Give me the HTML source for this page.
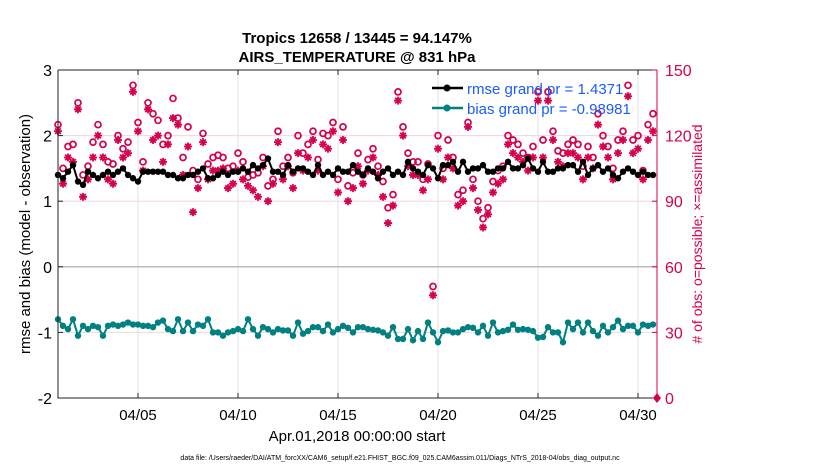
<!DOCTYPE html>
<html><head><meta charset="utf-8"><style>
body{margin:0;background:#fff;width:830px;height:470px;overflow:hidden;font-family:"Liberation Sans",sans-serif}
</style></head><body>
<svg id="chart" width="830" height="470" xmlns="http://www.w3.org/2000/svg" font-family="Liberation Sans, sans-serif">
<text x="357" y="43" text-anchor="middle" font-size="15" font-weight="bold">Tropics 12658 / 13445 = 94.147%</text>
<text x="357" y="62" text-anchor="middle" font-size="15" font-weight="bold">AIRS_TEMPERATURE @ 831 hPa</text>
<g id="grid"></g><g id="marks"></g><g id="axes"></g>
<text transform="translate(30,234) rotate(-90)" text-anchor="middle" font-size="15">rmse and bias (model - observation)</text>
<text transform="translate(702,234) rotate(-90)" text-anchor="middle" font-size="14" fill="#d6004e"># of obs: o=possible; ×=assimilated</text>
<text x="357" y="441" text-anchor="middle" font-size="15">Apr.01,2018 00:00:00 start</text>
<text x="400" y="460" text-anchor="middle" font-size="7">data file: /Users/raeder/DAI/ATM_forcXX/CAM6_setup/f.e21.FHIST_BGC.f09_025.CAM6assim.011/Diags_NTrS_2018-04/obs_diag_output.nc</text>
<g>
<line x1="432" y1="88" x2="463" y2="88" stroke="#000" stroke-width="2.5"/><circle cx="447" cy="88" r="3.5" fill="#000"/>
<text x="467" y="94" font-size="15" fill="#1a5cff">rmse grand pr = 1.4371</text>
<line x1="432" y1="108" x2="463" y2="108" stroke="#008080" stroke-width="2.5"/><circle cx="447" cy="108" r="3.5" fill="#008080"/>
<text x="467" y="114" font-size="15" fill="#1a5cff">bias grand pr = -0.98981</text>
</g>
</svg>
<script>
const rmse=[1.4,1.35,1.45,1.55,1.3,1.25,1.45,1.4,1.35,1.4,1.45,1.4,1.45,1.5,1.4,1.35,1.3,1.45,1.45,1.45,1.45,1.45,1.4,1.4,1.35,1.35,1.4,1.4,1.45,1.5,1.35,1.35,1.4,1.45,1.4,1.45,1.45,1.5,1.45,1.55,1.5,1.55,1.65,1.45,1.45,1.4,1.55,1.45,1.5,1.5,1.45,1.4,1.55,1.4,1.45,1.4,1.5,1.45,1.45,1.55,1.45,1.4,1.5,1.45,1.35,1.45,1.5,1.4,1.45,1.4,1.6,1.5,1.45,1.4,1.55,1.5,1.35,1.55,1.55,1.6,1.45,1.6,1.45,1.5,1.5,1.55,1.45,1.45,1.5,1.5,1.6,1.5,1.5,1.55,1.65,1.5,1.45,1.6,1.45,1.45,1.5,1.5,1.55,1.55,1.45,1.6,1.4,1.5,1.55,1.45,1.5,1.4,1.35,1.45,1.5,1.45,1.4,1.45,1.4,1.4];
const bias=[-0.8,-0.9,-0.95,-0.8,-1.05,-0.9,-0.95,-0.9,-0.92,-1.05,-0.9,-0.88,-0.9,-0.88,-0.85,-0.88,-0.88,-0.9,-0.9,-0.92,-0.85,-0.82,-0.95,-0.98,-0.8,-0.98,-0.85,-0.98,-0.88,-0.9,-0.8,-1.0,-1.0,-1.05,-1.0,-0.98,-0.95,-0.98,-0.8,-0.95,-1.05,-0.92,-0.95,-1.0,-0.95,-0.97,-0.97,-1.05,-0.85,-1.02,-0.98,-0.92,-0.92,-0.98,-0.88,-1.0,-0.95,-0.9,-0.93,-1.0,-0.92,-0.92,-0.95,-0.96,-0.97,-1.0,-1.05,-0.92,-1.1,-1.1,-0.95,-1.12,-0.98,-1.1,-0.85,-1.0,-1.15,-0.98,-0.97,-1.0,-1.0,-0.95,-0.92,-0.93,-1.0,-0.9,-1.05,-0.85,-1.0,-0.98,-0.96,-0.88,-0.96,-0.95,-0.96,-0.98,-1.08,-1.07,-0.92,-1.0,-1.0,-1.15,-0.85,-0.95,-0.85,-1.0,-0.85,-0.98,-1.05,-0.9,-1.0,-0.92,-0.82,-0.95,-0.9,-0.9,-1.0,-0.88,-0.9,-0.88];
const nposs=[125,105,115,116,135,102,106,117,125,116,108,107,120,114,117,143,126,108,135,130,127,116,120,137,128,110,124,104,100,121,107,110,111,110,105,106,112,108,101,102,103,110,97,100,122,106,110,103,120,112,116,122,109,121,120,126,100,124,97,103,112,102,109,114,106,99,87,93,140,124,112,108,108,100,107,51,120,105,118,110,93,95,126,100,90,82,87,99,104,106,120,118,116,112,110,115,140,118,140,122,113,112,116,118,116,106,115,110,130,120,115,105,118,122,143,118,120,104,125,130];
const nassim=[122,98,110,108,132,92,100,110,120,110,100,98,118,110,112,140,122,104,132,118,120,108,116,128,125,102,115,85,96,117,100,104,104,105,96,98,104,100,97,95,92,106,90,98,117,100,106,96,112,104,110,118,104,116,114,122,94,118,90,96,106,98,104,110,102,92,80,88,136,120,106,102,102,95,100,47,114,100,110,105,88,90,124,96,86,78,84,94,98,100,116,112,110,108,104,110,136,110,136,118,108,106,112,112,110,100,110,105,125,115,110,100,112,118,138,112,114,100,118,122];
const xTicks=[5,10,15,20,25,30];
const xTickLabels=["04/05","04/10","04/15","04/20","04/25","04/30"];
const yLeftTicks=[-2,-1,0,1,2,3];
const yRightTicks=[0,30,60,90,120,150];
const L=58,R=657,T=70,B=398,ns="http://www.w3.org/2000/svg";
const xs=t=>L+t*20;
const yl=v=>B-(v+2)*(B-T)/5;
const yr=v=>B-v*(B-T)/150;
const tOf=i=>i*0.25;
function mk(tag,at,par){const e=document.createElementNS(ns,tag);for(const k in at)e.setAttribute(k,at[k]);par.appendChild(e);return e;}
const grid=document.getElementById('grid'),marks=document.getElementById('marks'),axes=document.getElementById('axes');
xTicks.forEach(d=>{const g=mk('line',{x1:xs(d-1),x2:xs(d-1),y1:T,y2:B,stroke:'#e0e0e0'},grid);

});
yRightTicks.forEach(v=>{if(v>0&&v<150){const g=mk('line',{x1:L,x2:R,y1:yr(v),y2:yr(v),stroke:v==60?'#bbb':'#f0d6dd','stroke-width':v==60?1.5:1},grid);

}});
nposs.forEach((v,i)=>{const c=mk('circle',{cx:xs(tOf(i)),cy:yr(v),r:3,fill:'none',stroke:'#d6004e','stroke-width':1.7},marks);

});
nassim.forEach((v,i)=>{const x=xs(tOf(i)),y=yr(v),s=4,d=2.8;
const p=mk('path',{d:`M${x-s} ${y}H${x+s}M${x} ${y-s}V${y+s}M${x-d} ${y-d}L${x+d} ${y+d}M${x-d} ${y+d}L${x+d} ${y-d}`,stroke:'#d6004e','stroke-width':1.8,fill:'none'},marks);

});
function series(arr,col,name){const p=mk('polyline',{points:arr.map((v,i)=>xs(tOf(i))+','+yl(v)).join(' '),fill:'none',stroke:col,'stroke-width':2},marks);


arr.forEach((v,i)=>{const c=mk('circle',{cx:xs(tOf(i)),cy:yl(v),r:3.2,fill:col},marks);

});}
series(rmse,'#000','rmse');
series(bias,'#008080','bias');
const dm=mk('path',{d:`M${R} ${B-5}L${R+4} ${B}L${R} ${B+5}L${R-4} ${B}Z`,fill:'#d6004e'},marks);


const ax=mk('path',{d:`M${L} ${T}V${B}H${R}`,fill:'none',stroke:'#222'},axes);


const ra=mk('line',{x1:R,x2:R,y1:T,y2:B,stroke:'#d6004e'},axes);


const ta=mk('line',{x1:L,x2:R,y1:T,y2:T,stroke:'#222'},axes);


yLeftTicks.forEach(v=>{mk('line',{x1:L,x2:L+5,y1:yl(v),y2:yl(v),stroke:'#222'},axes);
const t=mk('text',{x:L-6,y:yl(v)+6,'text-anchor':'end','font-size':16},axes);t.textContent=v;

});
yRightTicks.forEach(v=>{mk('line',{x1:R-5,x2:R,y1:yr(v),y2:yr(v),stroke:'#d6004e'},axes);
const t=mk('text',{x:R+8,y:yr(v)+6,'font-size':16,fill:'#d6004e'},axes);t.textContent=v;

});
xTicks.forEach((d,i)=>{mk('line',{x1:xs(d-1),x2:xs(d-1),y1:B,y2:B-5,stroke:'#222'},axes);mk('line',{x1:xs(d-1),x2:xs(d-1),y1:T,y2:T+5,stroke:'#222'},axes);
const t=mk('text',{x:xs(d-1),y:B+22,'text-anchor':'middle','font-size':15},axes);t.textContent=xTickLabels[i];

});
</script>
</body></html>
